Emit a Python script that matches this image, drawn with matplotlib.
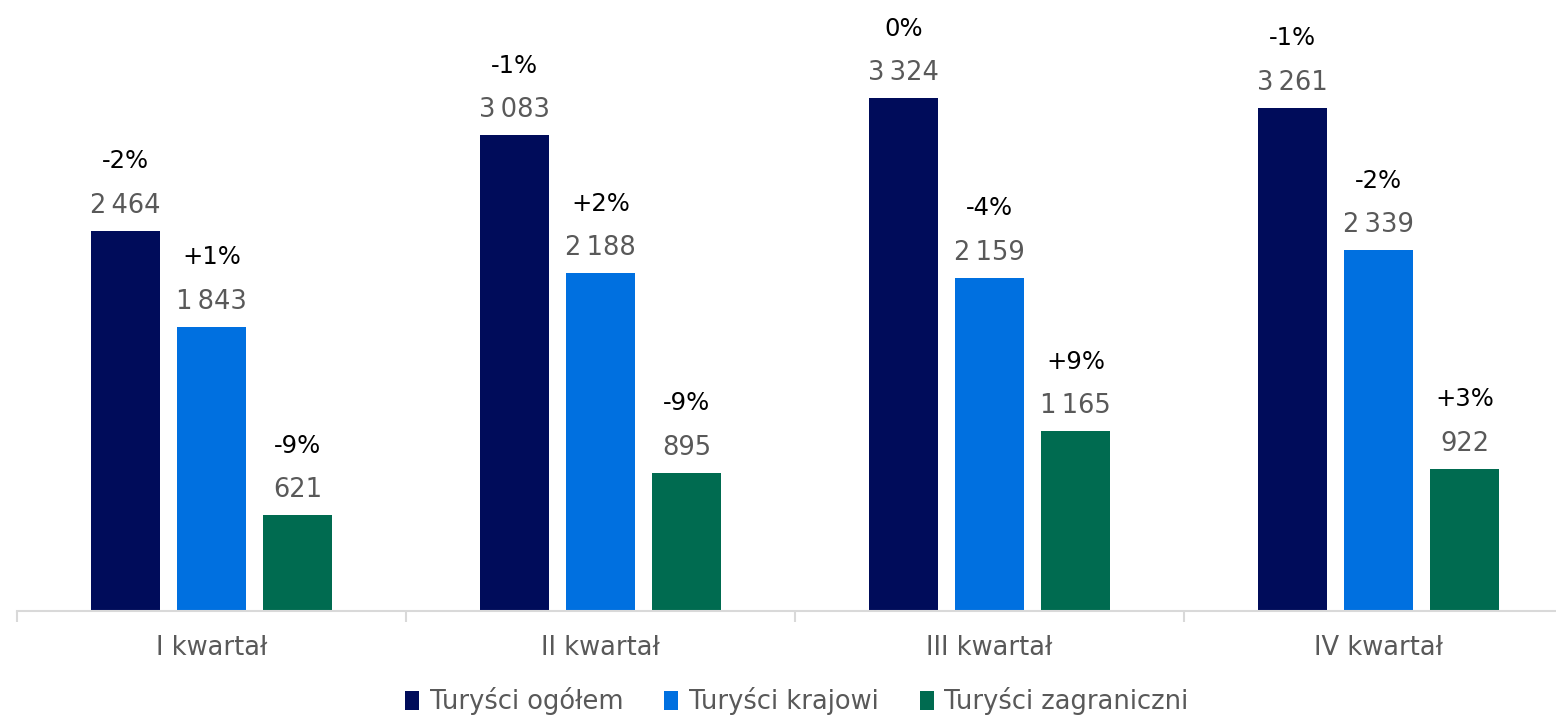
import matplotlib
matplotlib.use("Agg")
import matplotlib.pyplot as plt
import numpy as np

plt.rcParams["font.family"] = ["DejaVu Sans"]

quarters = ["I kwartał", "II kwartał", "III kwartał", "IV kwartał"]
series = ["Turyści ogółem", "Turyści krajowi", "Turyści zagraniczni"]
total = [2464, 3083, 3324, 3261]
domestic = [1843, 2188, 2159, 2339]
foreign = [621, 895, 1165, 922]
chg_total = ["-2%", "-1%", "0%", "-1%"]
chg_domestic = ["+1%", "+2%", "-4%", "-2%"]
chg_foreign = ["-9%", "-9%", "+9%", "+3%"]

colors = ["#000C5A", "#0070E0", "#006B50"]
GRAY = "#595959"


def fmt(v):
    return f"{v:,}".replace(",", "\u2009")


fig = plt.figure(figsize=(15.56, 7.17), dpi=100)
ax = fig.add_axes([17 / 1556, 1 - 611 / 717, 1556 / 1556, 611 / 717])

x = np.arange(len(quarters))
bar_w = 0.175
step = 0.221
data = [total, domestic, foreign]
chgs = [chg_total, chg_domestic, chg_foreign]

for i, (vals, ch) in enumerate(zip(data, chgs)):
    pos = x + (i - 1) * step
    ax.bar(pos, vals, bar_w, color=colors[i], label=series[i], zorder=2)
    for px, v, c in zip(pos, vals, ch):
        ax.annotate(fmt(v), (px, v), xytext=(0, 18), textcoords="offset points",
                    ha="center", va="center", fontsize=18.5, color=GRAY,
                    annotation_clip=False)
        ax.annotate(c, (px, v), xytext=(0, 50), textcoords="offset points",
                    ha="center", va="center", fontsize=17.5, color="black",
                    annotation_clip=False)

ax.set_xlim(-0.5, 3.5)
ax.set_ylim(0, 3960)
for s in ["top", "right", "left"]:
    ax.spines[s].set_visible(False)
ax.spines["bottom"].set_color("#D9D9D9")
ax.spines["bottom"].set_linewidth(1.5)
ax.set_yticks([])
ax.set_xticks(x)
ax.set_xticklabels(quarters, fontsize=18.5, color=GRAY)
ax.tick_params(axis="x", which="major", length=0, pad=17)
ax.set_xticks(np.arange(-0.5, 4.0, 1.0), minor=True)
ax.tick_params(axis="x", which="minor", length=8, width=1.5, color="#D9D9D9")

handles, labels = ax.get_legend_handles_labels()
leg = fig.legend(handles, labels, loc="lower center", bbox_to_anchor=(0.512, -0.03),
                 ncol=3, frameon=False, fontsize=18.5, handlelength=0.55,
                 handleheight=0.75, handletextpad=0.4, columnspacing=1.6)
for t in leg.get_texts():
    t.set_color(GRAY)

fig.savefig("out.png", dpi=100)
